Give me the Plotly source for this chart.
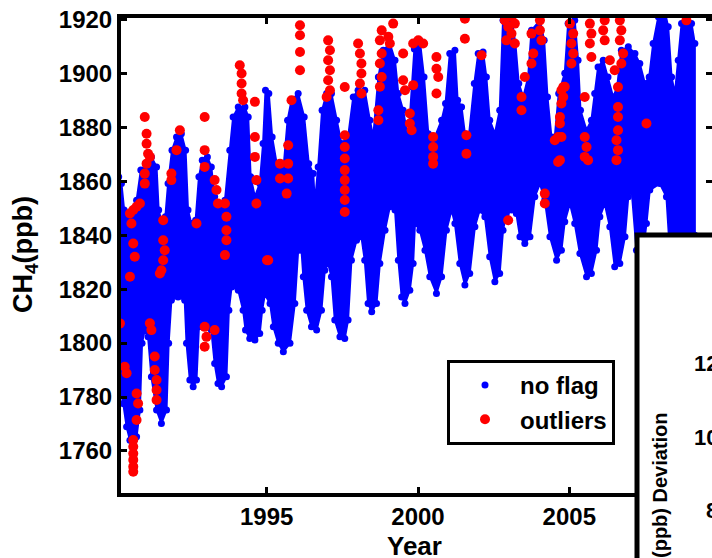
import plotly.graph_objects as go

# ---------------- data ----------------
# upper edge of the dense "no flag" cloud (year, ppb)
upper_t = [1990.11, 1990.20, 1990.29, 1990.37, 1990.53, 1990.70, 1990.84, 1991.03, 1991.19, 1991.36,
           1991.43, 1991.54, 1991.65, 1991.74, 1991.87, 1992.02, 1992.18, 1992.32, 1992.40, 1992.51,
           1992.65, 1992.76, 1992.87, 1993.04, 1993.17, 1993.28, 1993.45, 1993.62, 1993.78, 1993.89,
           1994.06, 1994.28, 1994.39, 1994.47, 1994.61, 1994.77, 1994.88, 1994.96, 1995.07, 1995.18,
           1995.33, 1995.55, 1995.69, 1995.82, 1996.04, 1996.24, 1996.39, 1996.54, 1996.59, 1996.70,
           1996.83, 1996.98, 1997.14, 1997.31, 1997.47, 1997.69, 1997.86, 1998.02, 1998.24, 1998.41,
           1998.52, 1998.69, 1998.85, 1999.07, 1999.24, 1999.35, 1999.51, 1999.68, 1999.80, 1999.88,
           2000.06, 2000.20, 2000.34, 2000.56, 2000.78, 2000.91, 2001.05, 2001.22, 2001.31, 2001.44,
           2001.55, 2001.68, 2001.86, 2001.99, 2002.15, 2002.26, 2002.37, 2002.54, 2002.70, 2002.81,
           2003.09, 2003.22, 2003.33, 2003.48, 2003.64, 2003.75, 2004.03, 2004.17, 2004.28, 2004.41,
           2004.52, 2004.65, 2004.85, 2004.96, 2005.18, 2005.29, 2005.37, 2005.57, 2005.73, 2005.84,
           2005.95, 2006.12, 2006.28, 2006.45, 2006.58, 2006.72, 2006.95, 2007.17, 2007.33, 2007.50,
           2007.64, 2007.77, 2007.94, 2008.16, 2008.27, 2008.38, 2008.49, 2008.60, 2008.71, 2008.87,
           2009.04, 2009.15]
upper_ppb = [1861.6, 1859.1, 1849.3, 1845.5, 1848.0, 1852.9, 1864.1, 1866.5, 1869.0, 1865.3,
             1849.3, 1844.3, 1846.8, 1859.1, 1871.5, 1876.4, 1877.6, 1871.5, 1849.3, 1844.3,
             1845.5, 1861.6, 1867.8, 1869.0, 1865.3, 1854.2, 1850.5, 1852.9, 1871.5, 1883.8,
             1887.5, 1887.5, 1883.8, 1861.6, 1854.2, 1859.1, 1874.0, 1893.7, 1892.5, 1876.4,
             1866.5, 1864.1, 1882.6, 1890.0, 1892.5, 1883.8, 1866.5, 1862.8, 1851.7, 1865.3,
             1886.3, 1892.5, 1892.5, 1882.6, 1874.0, 1876.4, 1891.2, 1893.7, 1893.7, 1882.6,
             1876.4, 1898.6, 1908.5, 1911.0, 1904.8, 1892.5, 1886.3, 1875.2, 1895.0, 1909.0,
             1912.2, 1898.6, 1877.6, 1876.4, 1882.6, 1888.8, 1907.3, 1908.5, 1890.0, 1887.5,
             1877.6, 1876.4, 1896.2, 1907.3, 1907.9, 1898.6, 1882.6, 1877.6, 1886.3, 1919.6,
             1920.2, 1911.0, 1896.2, 1891.2, 1898.6, 1915.9, 1919.6, 1912.2, 1891.2, 1876.4,
             1876.4, 1892.5, 1900.0, 1918.4, 1919.6, 1904.8, 1886.3, 1878.9, 1882.6, 1892.5,
             1902.3, 1904.8, 1898.6, 1891.2, 1894.9, 1908.5, 1909.8, 1907.3, 1903.6, 1896.2,
             1898.6, 1911.0, 1920.9, 1922.7, 1917.2, 1898.6, 1892.5, 1904.8, 1918.4, 1920.2,
             1918.4, 1911.0]

# lower edge of the dense "no flag" cloud (year, ppb)
lower_t = [1990.11, 1990.26, 1990.37, 1990.48, 1990.59, 1990.70, 1990.81, 1990.88, 1990.97, 1991.08,
           1991.19, 1991.36, 1991.52, 1991.69, 1991.76, 1991.85, 1992.07, 1992.29, 1992.35, 1992.46,
           1992.57, 1992.68, 1992.76, 1992.95, 1993.17, 1993.28, 1993.39, 1993.51, 1993.67, 1993.75,
           1993.84, 1994.06, 1994.22, 1994.30, 1994.44, 1994.61, 1994.77, 1994.85, 1994.94, 1995.11,
           1995.22, 1995.38, 1995.55, 1995.77, 1995.93, 1996.04, 1996.15, 1996.21, 1996.32, 1996.48,
           1996.65, 1996.81, 1996.92, 1997.03, 1997.14, 1997.25, 1997.42, 1997.58, 1997.69, 1997.80,
           1997.97, 1998.13, 1998.24, 1998.35, 1998.47, 1998.63, 1998.74, 1998.91, 1999.07, 1999.24,
           1999.35, 1999.46, 1999.57, 1999.73, 1999.84, 1999.90, 2000.06, 2000.23, 2000.39, 2000.61,
           2000.78, 2000.94, 2001.11, 2001.22, 2001.38, 2001.55, 2001.71, 2001.88, 2002.04, 2002.21,
           2002.37, 2002.54, 2002.70, 2002.81, 2002.92, 2003.09, 2003.25, 2003.37, 2003.53, 2003.70,
           2003.86, 2004.03, 2004.19, 2004.36, 2004.58, 2004.74, 2004.85, 2005.02, 2005.18, 2005.35,
           2005.57, 2005.73, 2005.90, 2006.01, 2006.17, 2006.34, 2006.50, 2006.67, 2006.84, 2006.95,
           2007.06, 2007.22, 2007.39, 2007.55, 2007.66, 2007.99, 2008.21, 2008.32, 2008.60, 2008.87,
           2009.04, 2009.15]
lower_ppb = [1786.3, 1777.6, 1769.0, 1764.0, 1762.8, 1765.3, 1775.2, 1799.9, 1804.8, 1802.3,
             1787.5, 1775.2, 1770.2, 1775.2, 1799.9, 1815.9, 1817.1, 1815.9, 1799.9, 1786.3,
             1783.8, 1786.3, 1806.0, 1806.0, 1804.8, 1792.4, 1785.0, 1783.8, 1787.5, 1812.2,
             1820.8, 1819.6, 1812.2, 1804.8, 1801.7, 1801.1, 1803.5, 1812.2, 1818.0, 1814.7,
             1806.0, 1799.9, 1796.8, 1799.9, 1814.7, 1834.4, 1834.4, 1824.6, 1812.2, 1806.0,
             1804.8, 1812.2, 1827.0, 1829.5, 1824.6, 1808.5, 1802.3, 1801.7, 1808.5, 1830.7,
             1838.1, 1839.4, 1830.7, 1814.7, 1811.6, 1814.7, 1829.5, 1841.8, 1850.5, 1849.3,
             1830.7, 1817.1, 1814.7, 1819.6, 1829.5, 1844.3, 1841.8, 1834.4, 1824.6, 1818.4,
             1824.6, 1841.8, 1849.3, 1844.3, 1829.5, 1821.5, 1825.8, 1843.1, 1849.3, 1846.8,
             1832.0, 1822.7, 1825.8, 1841.8, 1848.0, 1849.3, 1848.0, 1839.4, 1836.9, 1839.4,
             1854.2, 1859.1, 1853.0, 1839.4, 1830.7, 1834.4, 1845.0, 1851.7, 1844.3, 1833.2,
             1824.6, 1825.8, 1834.4, 1846.8, 1851.7, 1843.1, 1828.3, 1829.5, 1839.4, 1854.2,
             1856.7, 1834.4, 1829.5, 1844.3, 1856.7, 1859.1, 1854.2, 1834.4, 1829.5, 1834.4,
             1836.9, 1840.0]

# flagged outliers (year, ppb)
red_t = [1990.15, 1990.31, 1990.37, 1990.48, 1990.53, 1990.59, 1990.70, 1990.81, 1990.48, 1990.59,
         1990.64, 1990.70, 1990.75, 1990.70, 1990.59, 1990.59, 1990.59, 1990.59, 1990.59, 1990.59,
         1990.97, 1991.03, 1991.03, 1991.08, 1991.03, 1990.97, 1990.97, 1991.14, 1991.14, 1991.19,
         1991.30, 1991.30, 1991.36, 1991.36, 1991.36, 1991.58, 1991.58, 1991.63, 1991.58, 1991.52,
         1991.47, 1991.85, 1991.85, 1992.02, 1992.13, 1992.68, 1992.95, 1992.95, 1992.95, 1992.95,
         1993.01, 1992.95, 1993.28, 1993.28, 1993.34, 1993.39, 1993.62, 1993.67, 1993.67, 1993.67,
         1993.62, 1994.11, 1994.17, 1994.17, 1994.17, 1994.22, 1994.61, 1994.61, 1994.61, 1994.66,
         1994.66, 1995.01,
         1996.10, 1996.10, 1996.10, 1996.10, 1995.82, 1995.71, 1995.44, 1995.71, 1995.44, 1995.71,
         1995.66, 1995.05, 1997.03, 1997.09, 1997.03, 1997.09, 1997.03, 1997.09, 1996.98, 1997.58,
         1997.58, 1997.58, 1997.58, 1997.58, 1997.58, 1997.58, 1997.58, 1997.58, 1998.02, 1998.08,
         1998.13, 1998.13, 1998.08, 1998.13, 1998.80, 1998.74, 1998.80, 1998.74, 1998.80, 1998.74,
         1998.69, 1998.69, 1999.18, 1999.02, 1999.07, 1999.51, 1999.51, 1999.57, 1999.84, 1999.84,
         1999.73, 1999.73, 1999.79,
         2000.01, 2000.17, 2000.61, 2000.61, 2000.67, 2000.61, 2001.55, 2001.55, 2002.10, 2000.50,
         2000.50, 2000.50, 2000.50, 2001.60, 2001.60, 2002.87, 2002.98, 2003.09, 2003.20, 2002.92,
         2003.20, 2003.09, 2003.75, 2003.81, 2003.75, 2004.03, 2004.03, 2004.08, 2003.53, 2003.42,
         2003.42, 2002.98, 2004.63, 2004.52, 2004.63, 2004.74, 2004.74, 2004.69, 2004.69, 2004.85,
         2004.19, 2004.19,
         2005.02, 2005.13, 2005.07, 2005.13, 2005.07, 2005.68, 2005.73, 2005.68, 2005.73, 2006.17,
         2006.12, 2006.17, 2006.67, 2006.72, 2006.67, 2006.78, 2006.72, 2006.34, 2006.50, 2006.61,
         2006.61, 2006.61, 2006.61, 2006.56, 2006.61, 2006.56, 2005.51, 2005.51, 2005.57, 2005.51,
         2005.62, 2004.80, 2004.80, 2004.74, 2004.69, 2007.55, 2008.87]
red_ppb = [1807.3, 1791.2, 1788.8, 1848.0, 1844.3, 1849.3, 1850.5, 1851.7, 1824.6, 1836.9,
           1832.0, 1781.3, 1777.6, 1771.5, 1764.1, 1761.6, 1759.1, 1756.7, 1754.2, 1752.3,
           1883.8, 1877.6, 1873.9, 1870.2, 1866.5, 1862.8, 1859.1, 1869.0, 1807.3, 1804.8,
           1795.0, 1790.0, 1786.3, 1782.6, 1778.9, 1845.5, 1838.1, 1834.4, 1830.7, 1827.0,
           1825.8, 1862.8, 1860.4, 1871.5, 1878.9, 1844.3, 1883.8, 1871.5, 1865.3, 1806.0,
           1802.3, 1798.6, 1804.8, 1860.4, 1856.7, 1851.7, 1851.7, 1846.8, 1841.8, 1838.1,
           1832.6, 1903.0, 1899.9, 1896.2, 1892.5, 1890.0, 1889.4, 1876.4, 1869.0, 1860.4,
           1851.7, 1830.7,
           1917.8, 1914.1, 1907.9, 1901.1, 1890.0, 1873.3, 1866.5, 1866.5, 1861.0, 1861.0,
           1855.4, 1830.7, 1912.2, 1908.5, 1904.8, 1901.1, 1897.4, 1893.7, 1891.2, 1894.9,
           1877.0, 1872.7, 1868.4, 1864.1, 1860.4, 1856.7, 1853.0, 1848.6, 1911.0, 1907.3,
           1903.6, 1899.9, 1896.2, 1892.5, 1915.9, 1912.2, 1907.3, 1903.6, 1898.6, 1895.0,
           1886.3, 1882.6, 1918.4, 1913.5, 1911.0, 1907.3, 1897.4, 1893.7, 1911.0, 1895.6,
           1885.1, 1881.4, 1878.9,
           1912.2, 1911.0, 1906.0, 1901.7, 1898.6, 1892.5, 1920.2, 1912.8, 1906.7, 1876.4,
           1872.7, 1869.0, 1866.5, 1877.0, 1870.2, 1919.6, 1917.2, 1914.7, 1918.4, 1912.2,
           1911.0, 1920.9, 1914.7, 1907.3, 1903.6, 1919.6, 1915.9, 1912.2, 1898.6, 1891.2,
           1886.3, 1845.5, 1876.4, 1875.2, 1867.1, 1893.7, 1888.8, 1883.8, 1881.4, 1895.0,
           1855.4, 1851.7,
           1918.4, 1914.7, 1911.0, 1907.3, 1903.6, 1918.4, 1914.7, 1911.0, 1906.0, 1919.6,
           1915.9, 1912.2, 1919.6, 1915.9, 1912.2, 1907.3, 1903.6, 1904.8, 1901.1, 1894.9,
           1887.5, 1883.8, 1878.9, 1875.2, 1871.5, 1867.8, 1891.2, 1876.4, 1872.7, 1869.0,
           1867.8, 1894.9, 1891.2, 1876.4, 1867.8, 1881.4, 1919.6]

x_ticks = [1995, 2000, 2005]
y_ticks = [1760, 1780, 1800, 1820, 1840, 1860, 1880, 1900, 1920]
inset_ticks = [8, 10, 12]

BLUE = "#0000ff"
RED = "#ff0000"
FONT = "Liberation Sans, Arial, sans-serif"

fig = go.Figure()

# dense blue cloud as a filled band between its edges
fig.add_trace(go.Scatter(
    x=upper_t + lower_t[::-1], y=upper_ppb + lower_ppb[::-1],
    mode="lines", fill="toself", fillcolor=BLUE,
    line=dict(color=BLUE, width=2), showlegend=False, hoverinfo="skip"))
fig.add_trace(go.Scatter(
    x=upper_t + lower_t, y=upper_ppb + lower_ppb, mode="markers", name="no flag",
    marker=dict(color=BLUE, size=7, line=dict(width=0))))
fig.add_trace(go.Scatter(
    x=red_t, y=red_ppb, mode="markers", name="outliers",
    marker=dict(color=RED, size=10, line=dict(width=0))))

axis_common = dict(showline=True, linecolor="black", linewidth=4, mirror="ticks",
                   ticks="inside", ticklen=6, tickwidth=3, tickcolor="black",
                   showgrid=False, zeroline=False, automargin=False,
                   tickfont=dict(family=FONT, size=24, color="black", weight="bold"))

fig.update_layout(
    width=712, height=558, template="none",
    margin=dict(l=0, r=0, t=0, b=0),
    paper_bgcolor="white", plot_bgcolor="white",
    xaxis=dict(domain=[121/712, 1.0], range=[1990.185, 2009.716],
               tickvals=x_ticks, ticktext=[str(v) for v in x_ticks], **axis_common),
    yaxis=dict(domain=[0.11738, 0.96774], range=[1744.61, 1920.48],
               tickvals=y_ticks, ticktext=[str(v) for v in y_ticks], **axis_common),
    xaxis2=dict(domain=[637/712, 1.0], range=[0, 1], anchor="y2", visible=False),
    yaxis2=dict(domain=[0.0, 1 - 235/558], range=[6.72, 15.51], anchor="x2", visible=False),
    showlegend=True,
    legend=dict(x=447/712, y=1 - 360/558, xanchor="left", yanchor="top",
                bgcolor="white", bordercolor="black", borderwidth=3,
                font=dict(family=FONT, size=24, color="black", weight="bold"),
                itemwidth=60, tracegroupgap=0),
)

# inset panel (white box with thick frame) partly visible at lower right
fig.add_shape(type="rect", xref="x2 domain", yref="y2 domain", x0=0, x1=1.5, y0=-0.5, y1=1,
              line=dict(color="black", width=5), fillcolor="white", layer="above")
for v in inset_ticks:
    fig.add_annotation(x=720/712, xref="paper", y=v, yref="y2", text=str(v), showarrow=False,
                       xanchor="right", yanchor="middle",
                       font=dict(family=FONT, size=22, color="black", weight="bold"))
fig.add_annotation(x=660/712, xref="paper", y=1 - 410/558, yref="paper", text="(ppb) Deviation",
                   textangle=-90, showarrow=False, xanchor="center", yanchor="top",
                   font=dict(family=FONT, size=20, color="black", weight="bold"))

# axis titles
fig.add_annotation(x=25/712, xref="paper", y=1 - 255/558, yref="paper", text="CH<sub>4</sub>(ppb)",
                   textangle=-90, showarrow=False, xanchor="center", yanchor="middle",
                   font=dict(family=FONT, size=27, color="black", weight="bold"))
fig.add_annotation(x=415/712, xref="paper", y=1 - 546/558, yref="paper", text="Year",
                   showarrow=False, xanchor="center", yanchor="middle",
                   font=dict(family=FONT, size=26, color="black", weight="bold"))

fig.write_html("out.html", config={"displayModeBar": False},
               post_script="document.body.style.margin='0';")
